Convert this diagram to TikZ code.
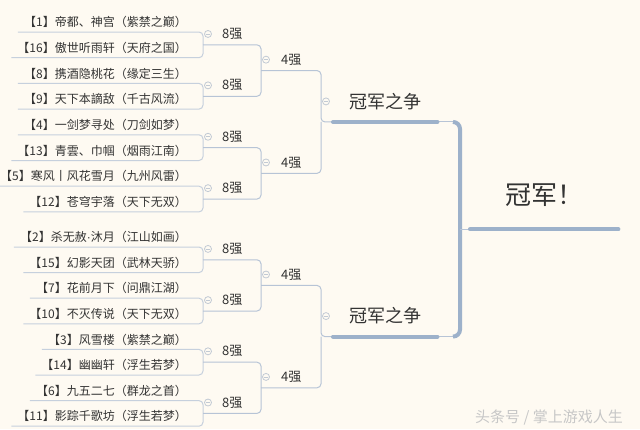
\documentclass[tikz,border=0pt]{standalone}
\usepackage{fontspec}
\newfontfamily\cjk{Noto Sans CJK SC}
\newfontfamily\latin{Liberation Sans}
\usetikzlibrary{positioning,calc}
\definecolor{paper}{HTML}{FEFAF2}
\definecolor{ink}{HTML}{333333}
\definecolor{leafc}{HTML}{C6D0DD}
\definecolor{linkc}{HTML}{B7C4D6}
\definecolor{trunkc}{HTML}{9DB1CA}
\definecolor{foldc}{HTML}{C2CAD4}

\tikzset{
  leaf/.style={font=\cjk\fontsize{12}{14}\selectfont, text=ink, anchor=south east, inner xsep=6pt, inner ysep=4pt},
  round8/.style={font=\cjk\fontsize{13}{15}\selectfont, text=ink, anchor=south west, minimum width=58pt, inner xsep=0pt, inner ysep=5pt},
  round4/.style={round8, minimum width=60pt},
  semi/.style={font=\cjk\fontsize{18}{20}\selectfont, text=ink, minimum width=104pt, inner xsep=0pt, inner ysep=12pt},
  champ/.style={font=\cjk\fontsize{26}{28}\selectfont, text=ink, minimum width=148pt, inner xsep=0pt, inner ysep=23pt},
  fold/.style={circle, draw=foldc, line width=0.8pt, minimum size=7pt, inner sep=0pt,
    path picture={\draw[foldc, line width=0.8pt] ([xshift=-2pt]path picture bounding box.center) -- ([xshift=2pt]path picture bounding box.center);}},
  leafline/.style={draw=leafc, line width=1pt, rounded corners=4pt},
  link/.style={draw=linkc, line width=1pt, rounded corners=4pt},
  trunk/.style={draw=trunkc, line width=4pt, line cap=round},
  stamp/.style={font=\cjk\fontsize{15}{17}\selectfont, text=black!22}
}

\begin{document}
\begin{tikzpicture}[x=1pt,y=1pt]
\useasboundingbox (0,0) rectangle (640,-429);
\fill[paper] (0,0) rectangle (640,-429);

% teams
\node[leaf] (t1)  at (193,-32.0)  {【1】帝都、神宫（紫禁之巅）};
\node[leaf] (t2)  at (193,-57.7)  {【16】傲世听雨轩（天府之国）};
\node[leaf] (t3)  at (193,-83.4)  {【8】携酒隐桃花（缘定三生）};
\node[leaf] (t4)  at (193,-109.1) {【9】天下本謫敌（千古风流）};
\node[leaf] (t5)  at (193,-134.8) {【4】一剑梦寻处（刀剑如梦）};
\node[leaf] (t6)  at (193,-160.5) {【13】青雲、巾帼（烟雨江南）};
\node[leaf] (t7)  at (193,-186.2) {【5】寒风丨风花雪月（九州风雷）};
\node[leaf] (t8)  at (193,-211.9) {【12】苍穹宇落（天下无双）};
\node[leaf] (t9)  at (193,-247.0) {【2】杀无赦{\latin ·}沐月（江山如画）};
\node[leaf] (t10) at (193,-272.6) {【15】幻影天团（武林天骄）};
\node[leaf] (t11) at (193,-298.2) {【7】花前月下（问鼎江湖）};
\node[leaf] (t12) at (193,-323.8) {【10】不灭传说（天下无双）};
\node[leaf] (t13) at (193,-349.4) {【3】风雪楼（紫禁之巅）};
\node[leaf] (t14) at (193,-375.0) {【14】幽幽轩（浮生若梦）};
\node[leaf] (t15) at (193,-400.6) {【6】九五二七（群龙之首）};
\node[leaf] (t16) at (193,-426.2) {【11】影踪千歌坊（浮生若梦）};

% last eight
\node[round8] (e1) at (203,-44.85)  {8强};
\node[round8] (e2) at (203,-96.25)  {8强};
\node[round8] (e3) at (203,-147.65) {8强};
\node[round8] (e4) at (203,-199.05) {8强};
\node[round8] (e5) at (203,-259.8)  {8强};
\node[round8] (e6) at (203,-311.0)  {8强};
\node[round8] (e7) at (203,-362.2)  {8强};
\node[round8] (e8) at (203,-413.4)  {8强};

% last four
\node[round4] (f1) at (261,-70.55)  {4强};
\node[round4] (f2) at (261,-173.35) {4强};
\node[round4] (f3) at (261,-285.4)  {4强};
\node[round4] (f4) at (261,-387.8)  {4强};

% semi finals and final
\coordinate (j1) at (321,-121.95);
\coordinate (j2) at (321,-336.6);
\node[semi] (s1) [right=12pt of j1, anchor=south west] {冠军之争};
\node[semi] (s2) [right=12pt of j2, anchor=south west] {冠军之争};
\coordinate (hub) at (460,-229.3);
\coordinate (h1) at (453,-121.95);
\coordinate (h2) at (453,-336.6);
\node[champ] (c) [right=10pt of hub, anchor=south west] {冠军！};

\draw[leafline] (t1.south west)  -| (e1.south west);
\draw[leafline] (t2.south west)  -| (e1.south west);
\draw[leafline] (t3.south west)  -| (e2.south west);
\draw[leafline] (t4.south west)  -| (e2.south west);
\draw[leafline] (t5.south west)  -| (e3.south west);
\draw[leafline] (t6.south west)  -| (e3.south west);
\draw[leafline] (t7.south west)  -| (e4.south west);
\draw[leafline] (t8.south west)  -| (e4.south west);
\draw[leafline] (t9.south west)  -| (e5.south west);
\draw[leafline] (t10.south west) -| (e5.south west);
\draw[leafline] (t11.south west) -| (e6.south west);
\draw[leafline] (t12.south west) -| (e6.south west);
\draw[leafline] (t13.south west) -| (e7.south west);
\draw[leafline] (t14.south west) -| (e7.south west);
\draw[leafline] (t15.south west) -| (e8.south west);
\draw[leafline] (t16.south west) -| (e8.south west);

\draw[link] (e1.south west) -| (f1.south west);
\draw[link] (e2.south west) -| (f1.south west);
\draw[link] (e3.south west) -| (f2.south west);
\draw[link] (e4.south west) -| (f2.south west);
\draw[link] (e5.south west) -| (f3.south west);
\draw[link] (e6.south west) -| (f3.south west);
\draw[link] (e7.south west) -| (f4.south west);
\draw[link] (e8.south west) -| (f4.south west);

\draw[link] (f1.south west) -| (j1) -- (s1.south west);
\draw[link] (f2.south west) -| (j1);
\draw[link] (f3.south west) -| (j2) -- (s2.south west);
\draw[link] (f4.south west) -| (j2);

\draw[link] (s1.south east) -- (h1);
\draw[link] (s2.south east) -- (h2);
\draw[trunk, line cap=butt, rounded corners=7pt] (h1) -| (hub) |- (h2);
\draw[link] (hub) -- (c.south west);
\draw[trunk] (s1.south west) -- (s1.south east);
\draw[trunk] (s2.south west) -- (s2.south east);
\draw[trunk] (c.south west) -- (c.south east);

% fold buttons
\node[fold] (o1) at ([xshift=5pt]e1.west) {};
\node[fold] (o2) at ([xshift=5pt]e2.west) {};
\node[fold] (o3) at ([xshift=5pt]e3.west) {};
\node[fold] (o4) at ([xshift=5pt]e4.west) {};
\node[fold] (o5) at ([xshift=5pt]e5.west) {};
\node[fold] (o6) at ([xshift=5pt]e6.west) {};
\node[fold] (o7) at ([xshift=5pt]e7.west) {};
\node[fold] (o8) at ([xshift=5pt]e8.west) {};
\node[fold] (o9)  at ([xshift=5pt]f1.west) {};
\node[fold] (o10) at ([xshift=5pt]f2.west) {};
\node[fold] (o11) at ([xshift=5pt]f3.west) {};
\node[fold] (o12) at ([xshift=5pt]f4.west) {};
\node[fold] (o13) at ($(j1 |- s1.west)+(5,0)$) {};
\node[fold] (o14) at ($(j2 |- s2.west)+(5,0)$) {};

\node[stamp] (wm) at (549,-418) {头条号 / 掌上游戏人生};
\end{tikzpicture}
\end{document}
